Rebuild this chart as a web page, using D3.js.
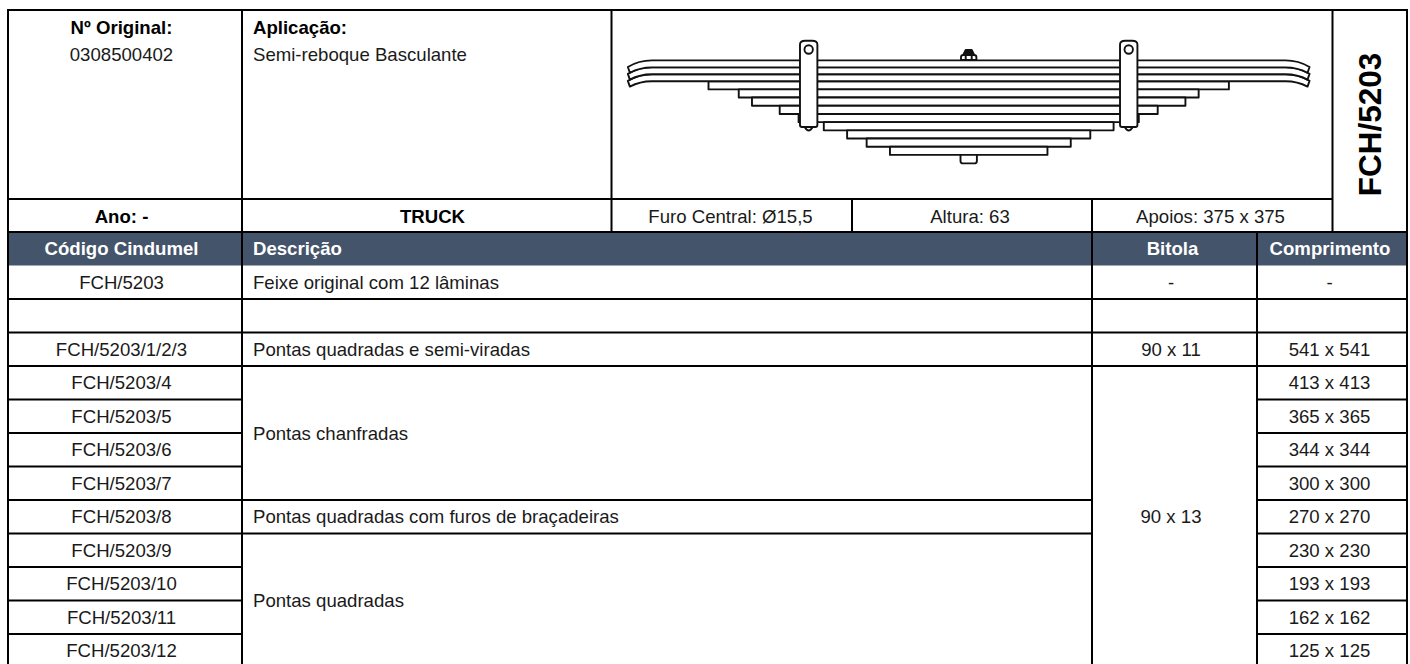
<!DOCTYPE html>
<html lang="pt">
<head>
<meta charset="UTF-8">
<title>FCH/5203</title>
<script src="https://d3js.org/d3.v7.min.js"></script>
<style>
  html, body { margin: 0; padding: 0; background: #fff; overflow: hidden; }
  text { font-family: "Liberation Sans", Arial, sans-serif; font-size: 18.6px; fill: #1a1a1a; }
  .bold { font-weight: bold; fill: #000; }
  .head { font-weight: bold; fill: #fff; }
</style>
</head>
<body>
<svg id="chart" width="1410" height="664"></svg>
<script>
// table data
var codigos = ["FCH/5203", "", "FCH/5203/1/2/3", "FCH/5203/4", "FCH/5203/5", "FCH/5203/6", "FCH/5203/7",
  "FCH/5203/8", "FCH/5203/9", "FCH/5203/10", "FCH/5203/11", "FCH/5203/12"];
var descricoes = ["Feixe original com 12 lâminas", "", "Pontas quadradas e semi-viradas", "Pontas chanfradas",
  "Pontas quadradas com furos de braçadeiras", "Pontas quadradas"];
var descricaoSpans = [1, 1, 1, 4, 1, 4];
var bitolas = ["-", "", "90 x 11", "90 x 13"];
var bitolaSpans = [1, 1, 1, 9];
var comprimentos = ["-", "", "541 x 541", "413 x 413", "365 x 365", "344 x 344", "300 x 300",
  "270 x 270", "230 x 230", "193 x 193", "162 x 162", "125 x 125"];
var cabecalhos = ["Código Cindumel", "Descrição", "Bitola", "Comprimento"];

// spring leaves, mm
var leafLengths = [541, 541, 541, 413, 365, 344, 300, 270, 230, 193, 162, 125];
var leafThickness = [11, 11, 11, 13, 13, 13, 13, 13, 13, 13, 13, 13];

var svg = d3.select("#chart");

var lineColor = "#000", lineWidth = 2;

// columns
var colX = [8, 242, 1092, 1257, 1407];
var topX = [8, 242, 611.5, 1332.5, 1407];
var colMid = { codigo: 121.5, bitola: 1171, comprimento: 1329.5 };

// rows: header + 12 body rows
var y = d3.scaleBand()
  .domain(d3.range(-1, 12))
  .range([232, 667.5]);

function hline(x1, x2, yy, g) {
  g.append("line").attr("x1", x1).attr("x2", x2).attr("y1", yy).attr("y2", yy)
    .attr("stroke", lineColor).attr("stroke-width", lineWidth);
}
function vline(xx, y1, y2, g) {
  g.append("line").attr("x1", xx).attr("x2", xx).attr("y1", y1).attr("y2", y2)
    .attr("stroke", lineColor).attr("stroke-width", lineWidth);
}

// header band
svg.append("rect")
  .attr("x", colX[0]).attr("y", y(-1))
  .attr("width", colX[4] - colX[0]).attr("height", y.bandwidth())
  .attr("fill", "#44546a");

var grid = svg.append("g");

// top block
hline(7, 1408, 10, grid);
hline(8, 1332.5, 199, grid);
hline(7, 1408, 232, grid);
topX.forEach(function(x) { vline(x, 10, 232, grid); });
vline(852, 199, 232, grid);
vline(1092, 199, 232, grid);

// body lines
colX.forEach(function(x) { vline(x, 232, 667, grid); });

function spanRows(spans) {
  var start = 0;
  return spans.map(function(s) {
    var r = { start: start, span: s };
    start += s;
    return r;
  });
}
var descRows = spanRows(descricaoSpans);
var bitRows = spanRows(bitolaSpans);

codigos.forEach(function(c, i) {
  hline(colX[0], colX[1], y(i) + y.bandwidth(), grid);
  hline(colX[3], colX[4], y(i) + y.bandwidth(), grid);
});
descRows.forEach(function(r) {
  hline(colX[1], colX[2], y(r.start) + r.span * y.bandwidth(), grid);
});
bitRows.forEach(function(r) {
  hline(colX[2], colX[3], y(r.start) + r.span * y.bandwidth(), grid);
});

// text helper
function label(x, yy, str, anchor, cls) {
  return svg.append("text").attr("x", x).attr("y", yy)
    .attr("text-anchor", anchor || "start")
    .attr("dominant-baseline", "central")
    .attr("class", cls || null)
    .text(str);
}

label(colMid.codigo, 27, "Nº Original:", "middle", "bold");
label(colMid.codigo, 54, "0308500402", "middle");
label(253, 27, "Aplicação:", "start", "bold");
label(253, 54, "Semi-reboque Basculante", "start");
label(colMid.codigo, 216, "Ano: -", "middle", "bold");
label(432.5, 216, "TRUCK", "middle", "bold");
label(730.5, 216, "Furo Central: Ø15,5", "middle");
label(970, 216, "Altura: 63", "middle");
label(1210.5, 216, "Apoios: 375 x 375", "middle");

label(0, 0, "FCH/5203", "middle", "bold")
  .attr("transform", "translate(1369.5,124.5) rotate(-90)")
  .style("font-size", "31.5px");

var headMid = y(-1) + y.bandwidth() / 2;
label(colMid.codigo, headMid, cabecalhos[0], "middle", "head");
label(253, headMid, cabecalhos[1], "start", "head");
label(1172.5, headMid, cabecalhos[2], "middle", "head");
label(1330, headMid, cabecalhos[3], "middle", "head");

codigos.forEach(function(c, i) {
  var mid = y(i) + y.bandwidth() / 2;
  if (c) label(colMid.codigo, mid, c, "middle");
  if (comprimentos[i]) label(colMid.comprimento, mid, comprimentos[i], "middle");
});
descricoes.forEach(function(d, i) {
  var r = descRows[i];
  if (d) label(253, y(r.start) + r.span * y.bandwidth() / 2, d);
});
bitolas.forEach(function(b, i) {
  var r = bitRows[i];
  if (b) label(colMid.bitola, y(r.start) + r.span * y.bandwidth() / 2, b, "middle");
});

// spring drawing: half length mm -> px either side of the centre bolt
var pxPerMm = 0.63;
var centerX = 968.7;
var sx = d3.scaleLinear().domain([-541, 541]).range([centerX - 541 * pxPerMm, centerX + 541 * pxPerMm]);
var sh = d3.scaleLinear().domain([0, d3.sum(leafThickness)])
  .range([60.4, 60.4 + d3.sum(leafThickness) * pxPerMm]);

var spring = svg.append("g")
  .attr("fill", "#fff").attr("stroke", "#111").attr("stroke-width", 1.9)
  .attr("stroke-linejoin", "round");

var tops = leafThickness.map(function(t, i) { return d3.sum(leafThickness.slice(0, i)); });

// centre bolt below and nut on top
var boltX0 = sx(-13), boltX1 = sx(13);
var stackBottom = sh(d3.sum(leafThickness));
spring.append("path")
  .attr("d", "M" + boltX0 + "," + stackBottom + "V" + (stackBottom + 6) + "Q" + boltX0 + "," + (stackBottom + 8.5) + " " + (boltX0 + 2.5) + "," + (stackBottom + 8.5)
    + "H" + (boltX1 - 2.5) + "Q" + boltX1 + "," + (stackBottom + 8.5) + " " + boltX1 + "," + (stackBottom + 6) + "V" + stackBottom);
spring.append("path")
  .attr("d", "M" + (boltX0 + 0.5) + ",60V57Q" + (boltX0 + 0.5) + ",55 " + (boltX0 + 3) + ",55H" + (boltX1 - 3) + "Q" + (boltX1 - 0.5) + ",55 " + (boltX1 - 0.5) + ",57V60Z");
spring.append("path")
  .attr("d", "M" + (centerX - 5.5) + ",55L" + (centerX - 3) + ",50H" + (centerX + 3) + "L" + (centerX + 5.5) + ",55Z")
  .attr("fill", "#111");
spring.append("path")
  .attr("d", "M" + (centerX - 3) + ",60V55M" + (centerX + 3) + ",60V55");

// the short leaves, plain rectangles
leafLengths.forEach(function(len, i) {
  if (i < 3) return;
  spring.append("rect")
    .attr("x", sx(-len)).attr("width", sx(len) - sx(-len))
    .attr("y", sh(tops[i])).attr("height", sh(tops[i] + leafThickness[i]) - sh(tops[i]));
});

// the three long leaves have curved tips, one outline each
function leafPath(len, y0, y1) {
  var l = sx(-len), r = sx(len), bend = 24;
  return "M" + (l + bend) + "," + y0 + "H" + (r - bend)
    + "Q" + (r - 11) + "," + y0 + " " + r + "," + (y0 + 6.6)
    + "L" + (r - 2) + "," + (y1 + 5.4)
    + "Q" + (r - 12) + "," + y1 + " " + (r - bend) + "," + y1
    + "H" + (l + bend)
    + "Q" + (l + 12) + "," + y1 + " " + (l + 2) + "," + (y1 + 5.4)
    + "L" + l + "," + (y0 + 6.6)
    + "Q" + (l + 11) + "," + y0 + " " + (l + bend) + "," + y0 + "Z";
}
d3.range(2, -1, -1).forEach(function(i) {
  var y0 = sh(tops[i]), y1 = sh(tops[i] + leafThickness[i]);
  spring.append("path").attr("d", leafPath(leafLengths[i], y0, y1));
});

// clamps
var clampOffset = 254;
[-1, 1].forEach(function(dir) {
  var cx = sx(dir * clampOffset), hw = 8.7;
  spring.append("path")
    .attr("d", "M" + (cx - 4) + ",127Q" + cx + ",134 " + (cx + 4) + ",127Z");
  spring.append("path")
    .attr("d", "M" + (cx - hw) + ",44.5Q" + (cx - hw) + ",40.7 " + (cx - 3.5) + ",40.7H" + (cx + 3.5) + "Q" + (cx + hw) + ",40.7 " + (cx + hw) + ",44.5V125Q" + (cx + hw) + ",127 " + (cx + hw - 2) + ",127H" + (cx - hw + 2) + "Q" + (cx - hw) + ",127 " + (cx - hw) + ",125Z");
  spring.append("circle").attr("cx", cx).attr("cy", 49.5).attr("r", 4.2);
});
</script>
</body>
</html>
